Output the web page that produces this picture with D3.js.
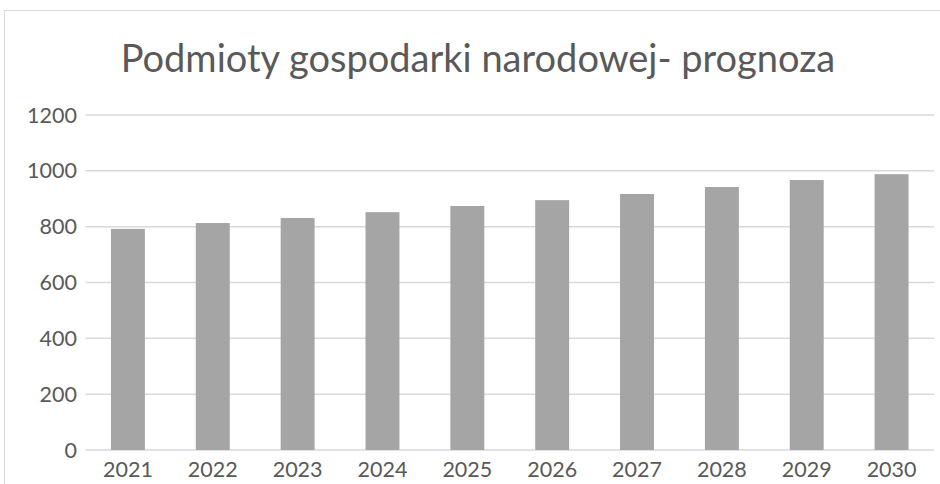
<!DOCTYPE html>
<html lang="pl">
<head>
<meta charset="utf-8">
<title>Podmioty gospodarki narodowej- prognoza</title>
<script src="https://d3js.org/d3.v7.min.js"></script>
<style>
  body { margin: 0; background: #fff; }
  text { font-family: Lato, "Open Sans", sans-serif; fill: #595959; }
</style>
</head>
<body>
<svg width="940" height="484"></svg>
<script>
// data
var years = ["2021","2022","2023","2024","2025","2026","2027","2028","2029","2030"];
var values = [792, 813, 831, 852, 874, 895, 917, 942, 967, 988];
var yTicks = [0, 200, 400, 600, 800, 1000, 1200];
var title = "Podmioty gospodarki narodowej- prognoza";

var svg = d3.select("svg"),
    width = +svg.attr("width"),
    height = +svg.attr("height");

// chart frame (only top and left edges are inside the picture)
svg.append("rect")
    .attr("x", 4.5).attr("y", 10.5)
    .attr("width", 1000).attr("height", 1000)
    .attr("fill", "none")
    .attr("stroke", "#d9d9d9")
    .attr("stroke-width", 1);

var plot = { left: 85.5, right: 934, top: 115, bottom: 450 };

var x = d3.scaleBand()
    .domain(years)
    .range([plot.left, plot.right])
    .paddingInner(0.6)
    .paddingOuter(0.3);

var y = d3.scaleLinear()
    .domain([0, 1200])
    .range([plot.bottom, plot.top]);

// gridlines
svg.append("g")
    .selectAll("line")
    .data(yTicks)
    .enter()
    .append("line")
    .attr("x1", plot.left).attr("x2", plot.right)
    .attr("y1", function(d){ return y(d); })
    .attr("y2", function(d){ return y(d); })
    .attr("stroke", "#d9d9d9")
    .attr("stroke-width", 1.5);

// bars
svg.append("g")
    .selectAll("rect")
    .data(values)
    .enter()
    .append("rect")
    .attr("x", function(d, i){ return x(years[i]); })
    .attr("width", x.bandwidth())
    .attr("y", function(d){ return y(d); })
    .attr("height", function(d){ return y(0) - y(d); })
    .attr("fill", "#a5a5a5");

// y labels
svg.append("g")
    .selectAll("text")
    .data(yTicks)
    .enter()
    .append("text")
    .attr("x", 77)
    .attr("y", function(d){ return y(d); })
    .attr("dy", "0.35em")
    .attr("text-anchor", "end")
    .style("font-size", "21.5px")
    .text(function(d){ return d; });

// x labels
svg.append("g")
    .selectAll("text")
    .data(years)
    .enter()
    .append("text")
    .attr("x", function(d){ return x(d) + x.bandwidth() / 2; })
    .attr("y", 477)
    .attr("text-anchor", "middle")
    .style("font-size", "21.5px")
    .text(function(d){ return d; });

// title
svg.append("text")
    .attr("x", 478)
    .attr("y", 72)
    .attr("text-anchor", "middle")
    .style("font-size", "38px")
    .text(title);
</script>
</body>
</html>
